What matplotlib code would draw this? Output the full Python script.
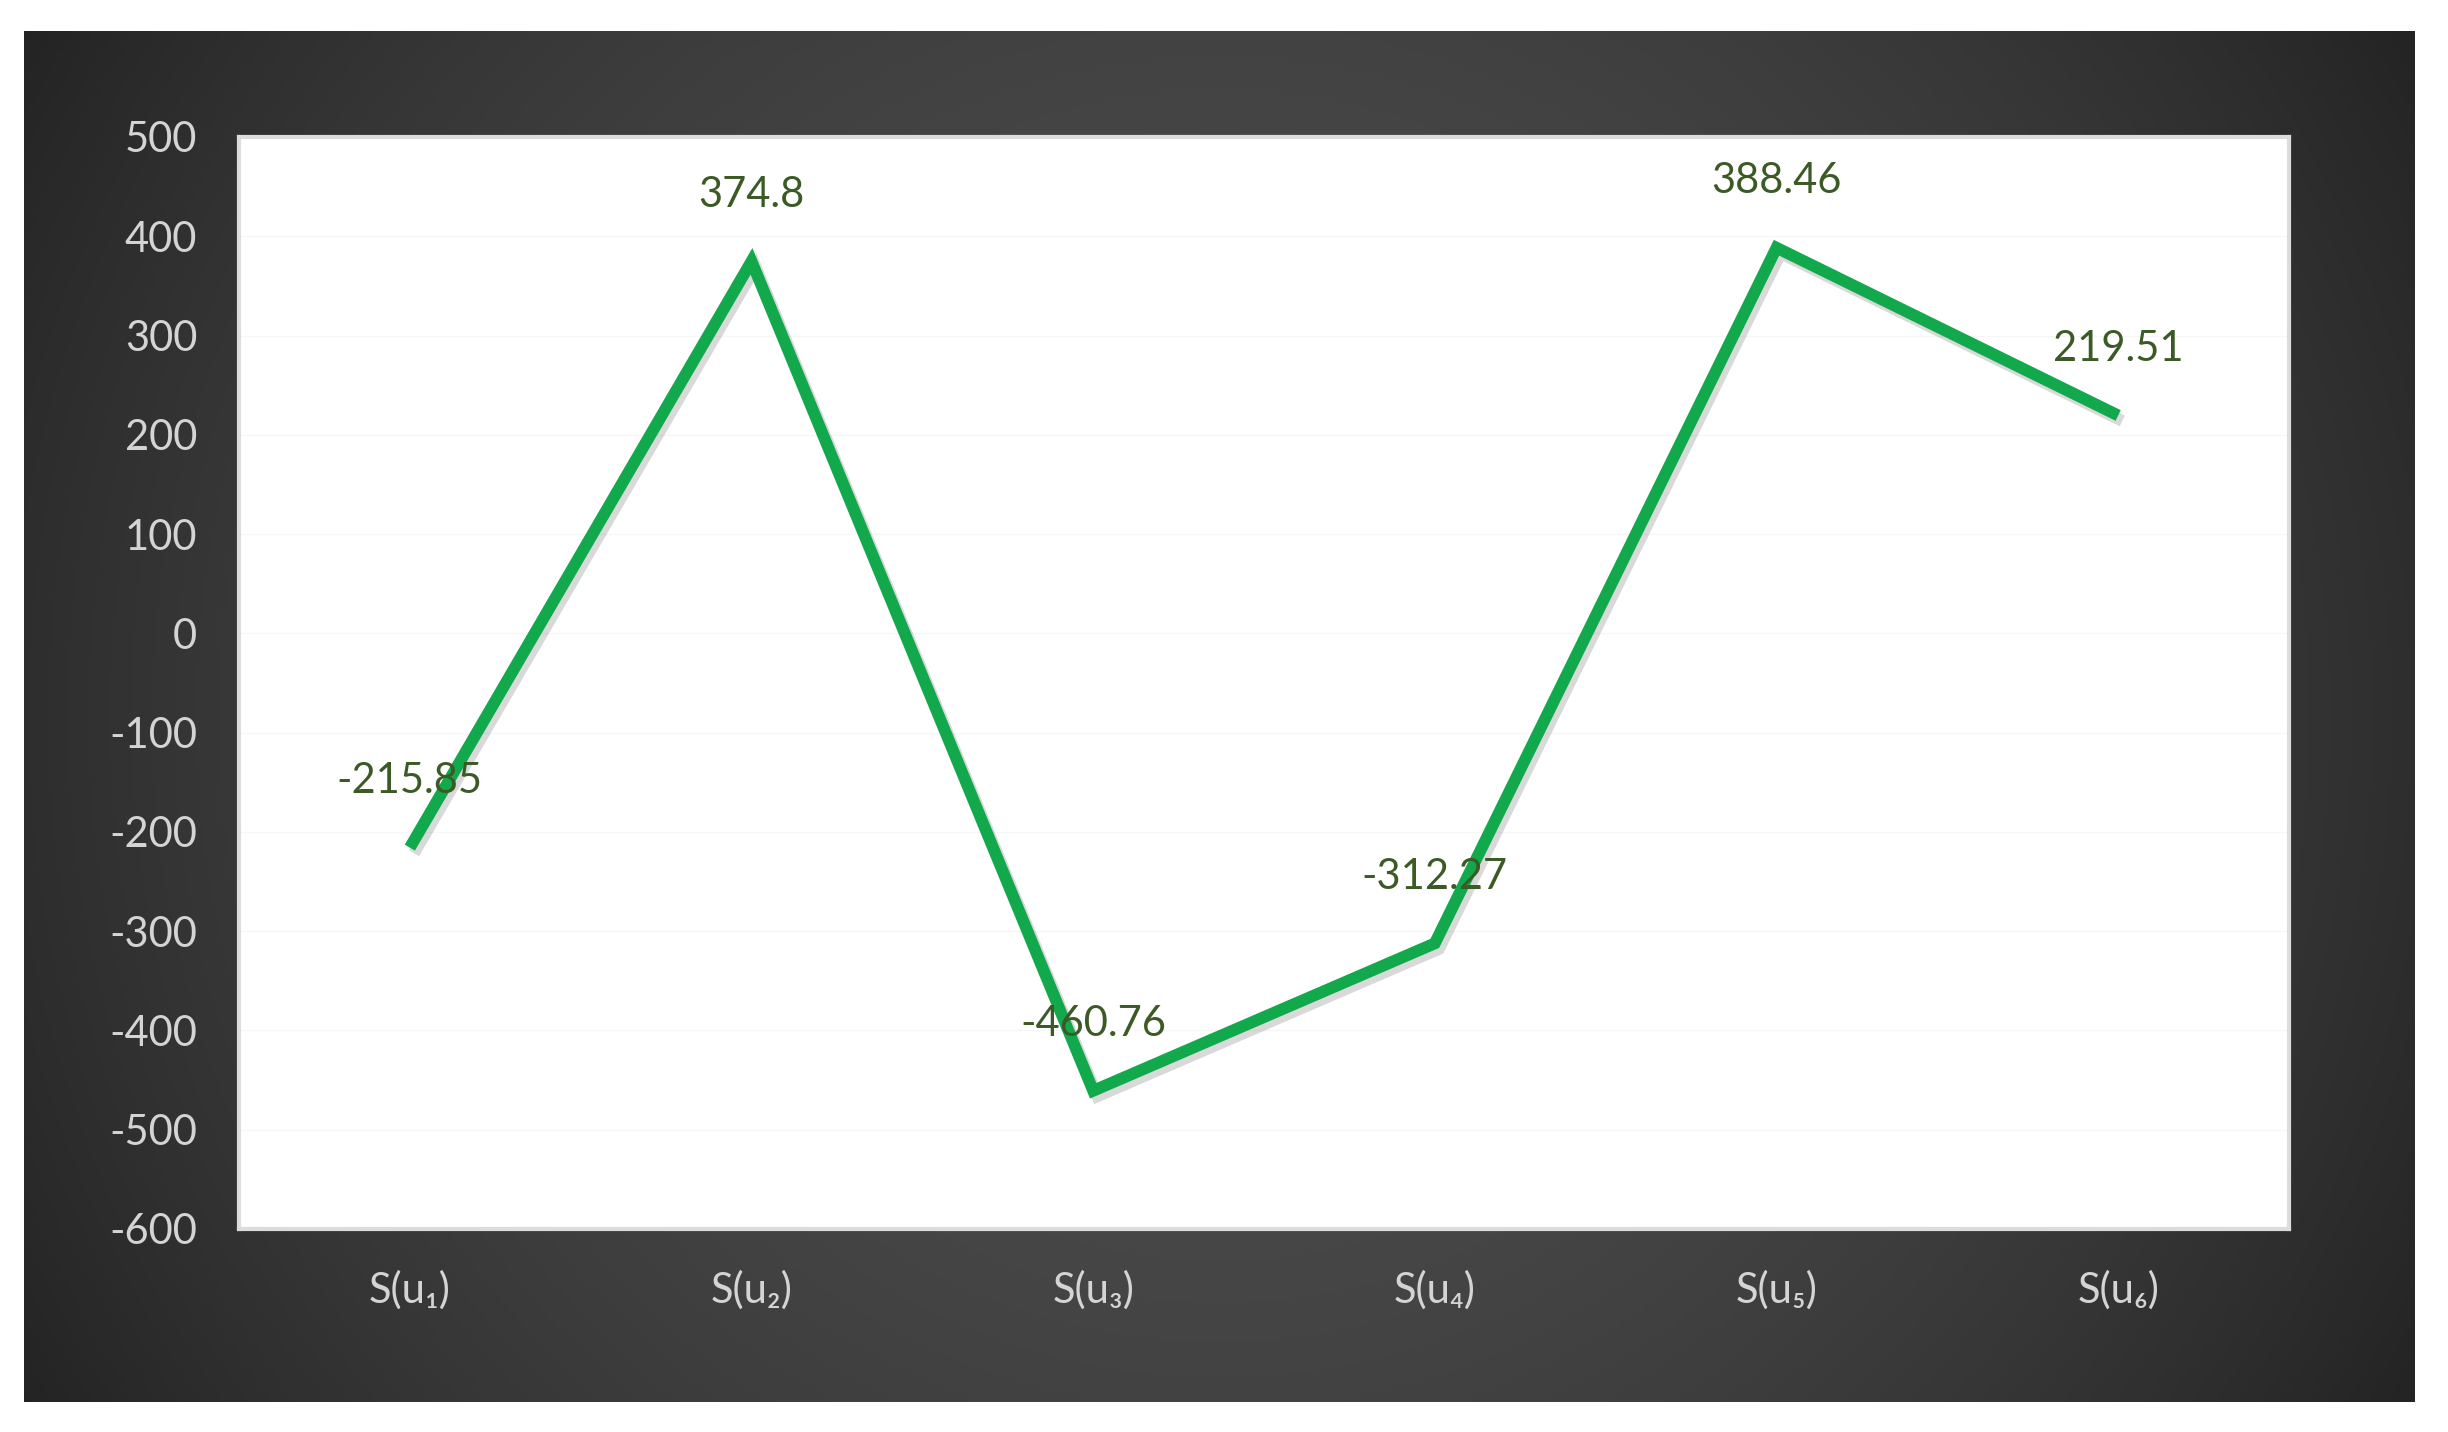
import numpy as np
import matplotlib
matplotlib.use("Agg")
import matplotlib.pyplot as plt
import matplotlib.patheffects as pe

# chart data
categories = ["S(u₁)", "S(u₂)", "S(u₃)", "S(u₄)", "S(u₅)", "S(u₆)"]
values = [-215.85, 374.8, -460.76, -312.27, 388.46, 219.51]
value_labels = ["-215.85", "374.8", "-460.76", "-312.27", "388.46", "219.51"]
y_ticks = [-600, -500, -400, -300, -200, -100, 0, 100, 200, 300, 400, 500]

W, H = 2448, 1432
LINE_COLOR = "#12a94c"
LABEL_COLOR = "#3b5a26"
TICK_COLOR = "#d4d4d4"
FONT = ["Lato", "DejaVu Sans"]

fig = plt.figure(figsize=(W / 100, H / 100), dpi=100)
fig.patch.set_facecolor("white")

# dark gradient frame
left, top, right, bottom = 24, 31, 2415, 1402
bg = fig.add_axes([left / W, 1 - bottom / H, (right - left) / W, (bottom - top) / H])
gx, gy = np.meshgrid(np.linspace(-1, 1, 600), np.linspace(-1, 1, 350))
shade = 0.30 - 0.12 * gx ** 2 - 0.04 * gy ** 2
bg.imshow(np.dstack([shade, shade, shade]), aspect="auto", extent=[0, 1, 0, 1])
bg.axis("off")

# plot area
pl, pt, pr, pb = 239, 137, 2289, 1229
ax = fig.add_axes([pl / W, 1 - pb / H, (pr - pl) / W, (pb - pt) / H])
ax.set_facecolor("white")

x = np.arange(len(categories))
ax.plot(x, values, color=LINE_COLOR, linewidth=8.5, solid_joinstyle="miter",
        solid_capstyle="butt", zorder=3,
        path_effects=[pe.SimpleLineShadow(offset=(3, -4), shadow_color="black", alpha=0.15),
                      pe.Normal()])

for xi, v, lab in zip(x, values, value_labels):
    ax.annotate(lab, (xi, v), xytext=(0, 48), textcoords="offset points",
                ha="center", va="center", fontsize=30, color=LABEL_COLOR,
                family=FONT, zorder=4)

ax.set_xlim(-0.5, len(categories) - 0.5)
ax.set_ylim(-600, 500)
ax.set_yticks(y_ticks)
ax.set_yticklabels([str(t) for t in y_ticks], family=FONT)
ax.set_xticks(x)
ax.set_xticklabels(categories, family=FONT)
ax.tick_params(axis="y", length=0, pad=30, labelsize=30, labelcolor=TICK_COLOR)
ax.tick_params(axis="x", length=0, pad=30, labelsize=30, labelcolor=TICK_COLOR)
ax.grid(axis="y", color="#f6f6f6", linewidth=1)
ax.set_axisbelow(True)
for s in ax.spines.values():
    s.set_color("#dcdcdc")
    s.set_linewidth(3)

fig.savefig("out.png", dpi=100, facecolor=fig.get_facecolor())
